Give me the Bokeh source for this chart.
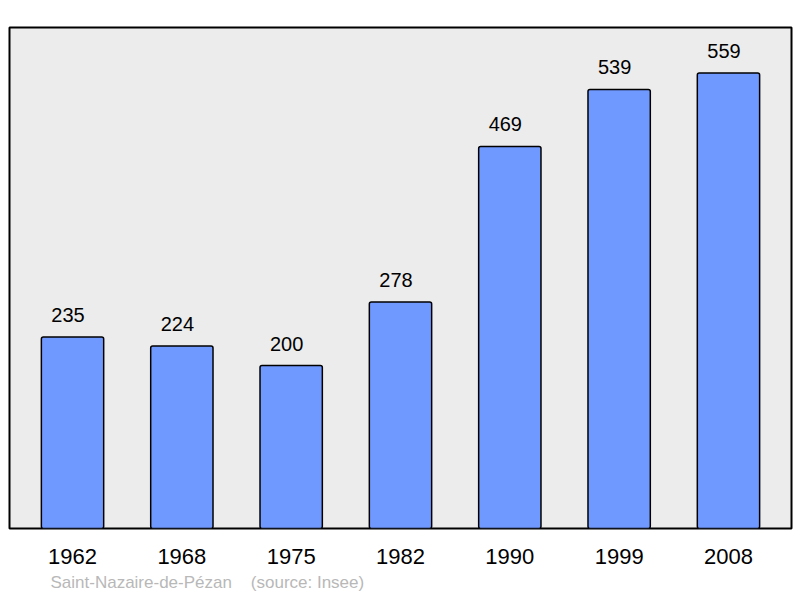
from bokeh.plotting import figure
from bokeh.models import Range1d, FactorRange, ColumnDataSource, LabelSet, Title
from bokeh.core.properties import value
from bokeh.embed import file_html
from bokeh.resources import INLINE

years = ["1962", "1968", "1975", "1982", "1990", "1999", "2008"]
population = [235, 224, 200, 278, 469, 539, 559]
labels = [str(v) for v in population]
source_note = "Saint-Nazaire-de-Pézan\u00a0\u00a0\u00a0\u00a0(source: Insee)"

src = ColumnDataSource(dict(x=years, top=population, label=labels))

p = figure(
    width=800, height=598,
    x_range=FactorRange(factors=years, range_padding=0.0765, range_padding_units="absolute"),
    y_range=Range1d(0, 615),
    output_backend="svg", toolbar_location=None,
    min_border_left=9, min_border_right=9, min_border_top=27, min_border_bottom=70,
    y_axis_location=None,
)
p.background_fill_color = "#ECECEC"
p.border_fill_color = "white"
p.outline_line_color = "black"
p.outline_line_width = 2
p.xgrid.visible = False
p.ygrid.visible = False

p.vbar(x="x", top="top", width=0.57, source=src, fill_color="#7099FF",
       line_color="black", line_width=1.5, border_radius=2)

p.add_layout(LabelSet(x="x", y="top", text="label", source=src, x_offset=-4.5, y_offset=15,
                      text_align="center", text_baseline="alphabetic",
                      text_font=value("Liberation Sans"), text_font_size=value("20px"),
                      text_color=value("black")))

ax = p.xaxis[0]
ax.axis_line_color = None
ax.major_tick_line_color = None
ax.minor_tick_line_color = None
ax.major_tick_in = 0
ax.major_tick_out = 0
ax.major_label_standoff = 20
ax.major_label_text_font = "Liberation Sans"
ax.major_label_text_font_size = "22px"
ax.major_label_text_color = "black"

note = Title(text=source_note, align="left", offset=41, standoff=9,
             text_font="Liberation Sans", text_font_size="17px",
             text_font_style="normal", text_color="#B8B8B8")
p.add_layout(note, "below")

open("out.html", "w").write(file_html(p, INLINE))
